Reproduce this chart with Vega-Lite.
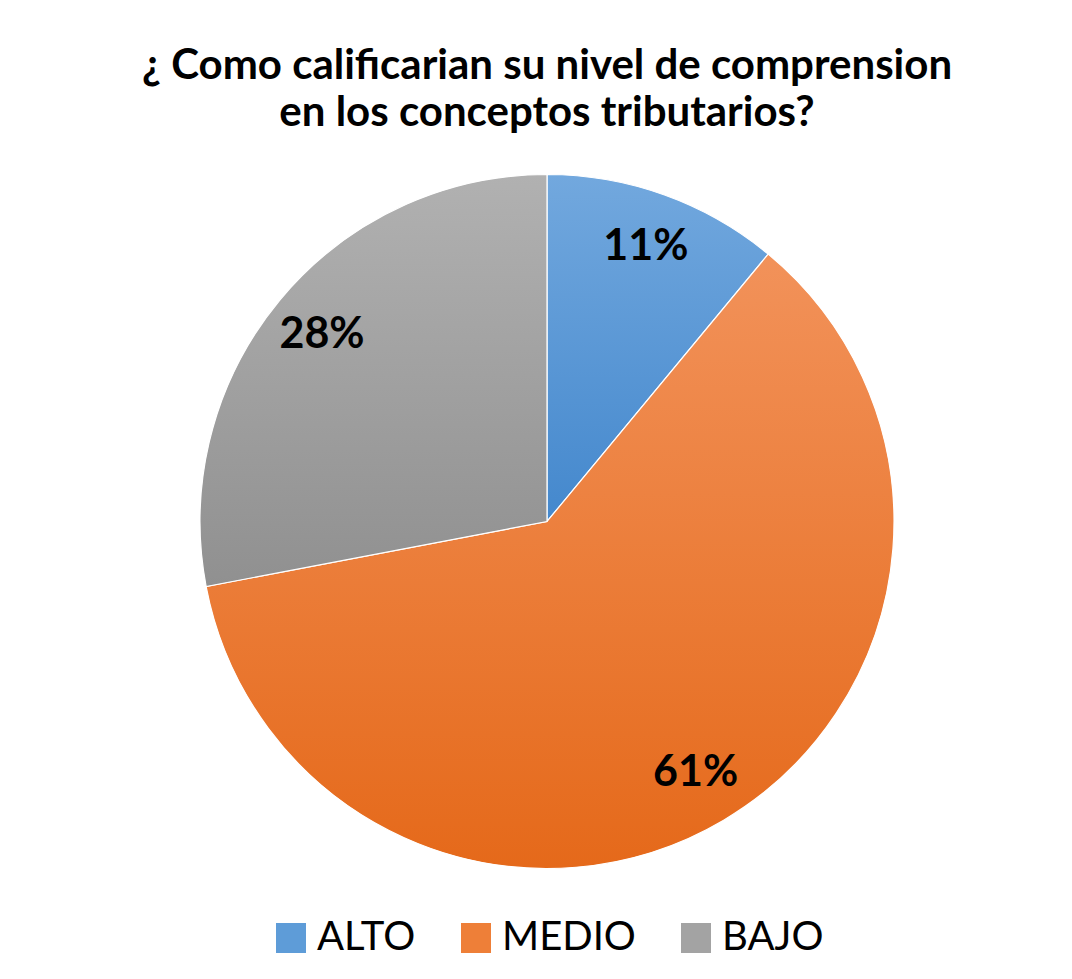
{
  "$schema": "https://vega.github.io/schema/vega-lite/v6.json",
  "width": 1072,
  "height": 979,
  "autosize": {"type": "fit", "contains": "padding"},
  "padding": {"left": 22, "top": 45, "right": 0, "bottom": 21},
  "background": "white",
  "config": {
    "view": {"stroke": null},
    "legend": {"layout": {"bottom": {"anchor": "middle"}}}
  },
  "title": {
    "text": ["¿ Como calificarian su nivel de comprension", "en los conceptos tributarios?"],
    "font": "Lato",
    "fontSize": 42,
    "fontWeight": "bold",
    "color": "#000000",
    "lineHeight": 47,
    "anchor": "middle",
    "offset": 20
  },
  "data": {
    "values": [
      {"nivel": "ALTO", "pct": 11, "ord": 1, "label": "11%"},
      {"nivel": "MEDIO", "pct": 61, "ord": 2, "label": "61%"},
      {"nivel": "BAJO", "pct": 28, "ord": 3, "label": "28%"}
    ]
  },
  "encoding": {
    "theta": {"field": "pct", "type": "quantitative", "stack": true},
    "order": {"field": "ord", "type": "quantitative"}
  },
  "layer": [
    {
      "mark": {"type": "arc", "outerRadius": 347, "opacity": 0},
      "encoding": {
        "color": {
          "field": "nivel",
          "type": "nominal",
          "scale": {"domain": ["ALTO", "MEDIO", "BAJO"], "range": ["#5e9cd8", "#ee7f38", "#a3a3a3"]},
          "legend": {
            "orient": "bottom",
            "direction": "horizontal",
            "title": null,
            "symbolType": "square",
            "symbolSize": 900,
            "symbolStrokeWidth": 0,
            "symbolOpacity": 1,
            "labelFont": "Lato",
            "labelFontSize": 40,
            "labelColor": "#000000",
            "labelOffset": 6,
            "columnPadding": 40,
            "labelLimit": 400,
            "offset": 30
          }
        }
      }
    },
    {
      "mark": {"type": "arc", "outerRadius": 347, "stroke": "#ffffff", "strokeWidth": 1.2},
      "encoding": {
        "fill": {
          "condition": [
            {"test": "datum.nivel === 'ALTO'", "value": {"gradient": "linear", "x1": 0, "y1": 0, "x2": 0, "y2": 1, "stops": [{"offset": 0, "color": "#72a8de"}, {"offset": 1, "color": "#4488cd"}]}},
            {"test": "datum.nivel === 'MEDIO'", "value": {"gradient": "linear", "x1": 0, "y1": 0, "x2": 0, "y2": 1, "stops": [{"offset": 0, "color": "#f2925a"}, {"offset": 1, "color": "#e5691a"}]}}
          ],
          "value": {"gradient": "linear", "x1": 0, "y1": 0, "x2": 0, "y2": 1, "stops": [{"offset": 0, "color": "#b1b1b1"}, {"offset": 1, "color": "#909090"}]}
        }
      }
    },
    {
      "mark": {"type": "text", "radius": 292, "font": "Lato", "fontSize": 43, "fontWeight": "bold", "color": "#000000", "baseline": "middle", "align": "center"},
      "encoding": {
        "text": {"field": "label", "type": "nominal"}
      }
    }
  ]
}
